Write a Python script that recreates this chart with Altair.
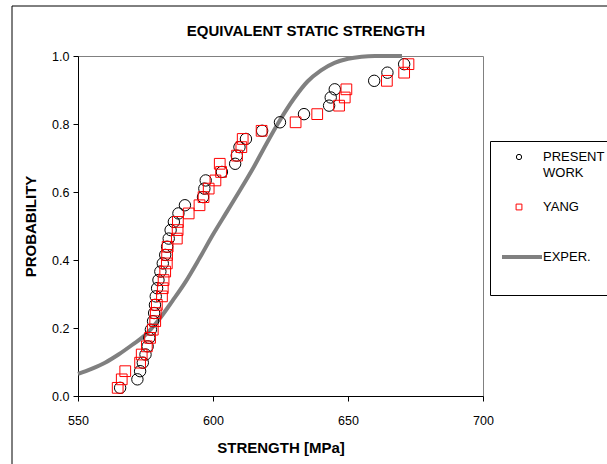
import altair as alt
import pandas as pd

# ---------------- data ----------------
prob = [0.024, 0.049, 0.073, 0.098, 0.122, 0.146, 0.171, 0.195, 0.220, 0.244,
        0.268, 0.293, 0.317, 0.341, 0.366, 0.390, 0.415, 0.439, 0.463, 0.488,
        0.512, 0.537, 0.561, 0.585, 0.610, 0.634, 0.659, 0.683, 0.707, 0.732,
        0.756, 0.780, 0.805, 0.829, 0.854, 0.878, 0.902, 0.927, 0.951, 0.976]

present_x = [565.6, 572.0, 573.0, 574.0, 575.0, 575.8, 576.4, 577.0, 577.8, 578.2,
             578.5, 578.8, 579.3, 579.8, 580.5, 581.4, 582.3, 583.0, 583.6, 584.3,
             585.5, 587.2, 589.6, 596.3, 596.8, 597.3, 603.3, 608.2, 608.8, 609.8,
             612.2, 618.2, 624.8, 633.7, 643.0, 643.6, 645.1, 659.7, 664.6, 670.8]

yang_x = [564.7, 566.2, 567.5, 573.0, 573.6, 575.5, 576.7, 577.7, 578.6, 578.8,
          579.2, 581.1, 581.4, 581.7, 582.3, 582.9, 583.0, 583.2, 586.6, 586.9,
          587.0, 591.0, 595.0, 596.5, 598.4, 600.9, 603.0, 602.5, 608.9, 610.5,
          611.0, 618.0, 630.6, 638.6, 646.7, 648.8, 649.4, 664.4, 670.8, 672.4]

exper_x = [550, 555, 560, 565, 570, 575, 580, 585, 590, 595, 600, 605,
           610, 615, 620, 625, 630, 635, 640, 645, 650, 655, 660, 670]
exper_p = [0.065, 0.080, 0.098, 0.122, 0.150, 0.180, 0.225, 0.280, 0.338, 0.405,
           0.475, 0.540, 0.605, 0.672, 0.745, 0.814, 0.875, 0.925, 0.958, 0.980,
           0.992, 0.998, 1.0, 1.0]

x_ticks = [550, 600, 650, 700]
y_ticks = [0.0, 0.2, 0.4, 0.6, 0.8, 1.0]
title_text = "EQUIVALENT STATIC STRENGTH"
x_title = "STRENGTH [MPa]"
y_title = "PROBABILITY"
legend_labels = ["PRESENT", "WORK", "YANG", "EXPER."]

FONT = "Liberation Sans"
GRAY = "#808080"

# ---------------- chart ----------------
xs = alt.Scale(domain=[550, 700], nice=False, zero=False)
ys = alt.Scale(domain=[0, 1], nice=False)

x_axis = alt.Axis(values=x_ticks, title=x_title, grid=False, tickSize=5,
                  labelPadding=13, titleY=51, titleBaseline="middle",
                  titleFontWeight="bold", labelFlush=False)
y_axis = alt.Axis(values=y_ticks, format=".1f", title=y_title, grid=False,
                  tickSize=5, labelPadding=4, titleX=-48, titleY=170,
                  titleAngle=270, titleAlign="center", titleBaseline="middle",
                  titleFontWeight="bold")

df_present = pd.DataFrame({"x": present_x, "p": prob})
df_yang = pd.DataFrame({"x": yang_x, "p": prob})
df_exper = pd.DataFrame({"x": exper_x, "p": exper_p})

X = alt.X("x:Q", scale=xs, axis=x_axis)
Y = alt.Y("p:Q", scale=ys, axis=y_axis)

exper = alt.Chart(df_exper).mark_line(
    color=GRAY, strokeWidth=4, interpolate="monotone"
).encode(x=X, y=Y)

present = alt.Chart(df_present).mark_point(
    shape="circle", filled=False, color="black", size=130, strokeWidth=1, opacity=1
).encode(x=X, y=Y)

yang = alt.Chart(df_yang).mark_point(
    shape="square", filled=False, color="#ff0000", size=115, strokeWidth=1, opacity=1
).encode(x=X, y=Y)

one = pd.DataFrame({"k": [0]})

frame = alt.Chart(one).mark_rect(filled=False, stroke="black", strokeWidth=1).encode(
    x=alt.value(-66), x2=alt.value(700), y=alt.value(-50), y2=alt.value(520))

title = alt.Chart(one).mark_text(
    align="center", baseline="middle", font=FONT, fontSize=15, fontWeight="bold",
    color="black"
).encode(x=alt.value(228), y=alt.value(-25), text=alt.value(title_text))

leg_box = alt.Chart(one).mark_rect(fill="white", stroke="black", strokeWidth=1).encode(
    x=alt.value(412.5), x2=alt.value(700), y=alt.value(85.5), y2=alt.value(239.5))

leg_circle = alt.Chart(one).mark_point(
    shape="circle", filled=False, color="black", size=28, strokeWidth=1, opacity=1
).encode(x=alt.value(441), y=alt.value(101))

leg_square = alt.Chart(one).mark_point(
    shape="square", filled=False, color="#ff0000", size=34, strokeWidth=1, opacity=1
).encode(x=alt.value(441), y=alt.value(151))

leg_line = alt.Chart(one).mark_rule(color=GRAY, strokeWidth=4).encode(
    x=alt.value(424), x2=alt.value(464), y=alt.value(201))

def leg_text(txt, ypos):
    return alt.Chart(one).mark_text(
        align="left", baseline="middle", font=FONT, fontSize=13, color="black"
    ).encode(x=alt.value(465), y=alt.value(ypos), text=alt.value(txt))

chart = alt.layer(
    frame, title, exper, present, yang, leg_box, leg_circle, leg_square, leg_line,
    leg_text(legend_labels[0], 101), leg_text(legend_labels[1], 117),
    leg_text(legend_labels[2], 151), leg_text(legend_labels[3], 201),
).properties(
    width=405, height=340,
    autosize=alt.AutoSizeParams(type="none"),
    padding={"left": 78, "top": 56, "right": 124, "bottom": 68},
    background="white",
).configure_view(
    stroke=GRAY, strokeWidth=1
).configure_axis(
    labelFont=FONT, labelFontSize=12.5, labelColor="black",
    titleFont=FONT, titleFontSize=15, titleColor="black",
    domainColor="black", tickColor="black", domainWidth=1, tickWidth=1
)

chart.save("out.html", embed_options={"renderer": "svg", "actions": False})
